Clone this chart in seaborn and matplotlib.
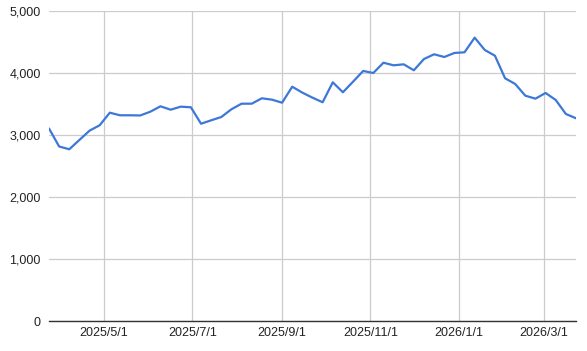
import matplotlib
matplotlib.use("Agg")
import matplotlib.pyplot as plt
import matplotlib.dates as mdates
from matplotlib.ticker import FuncFormatter, FixedLocator
import seaborn as sns
import pandas as pd

start_date = "2025-03-24"
n_weeks = 53
values = [3105, 2815, 2770, 2920, 3070, 3157, 3360, 3318, 3318, 3315,
          3376, 3463, 3408, 3457, 3447, 3182, 3237, 3290, 3415, 3505,
          3505, 3592, 3570, 3521, 3779, 3683, 3602, 3528, 3850, 3689,
          3860, 4033, 4000, 4166, 4124, 4140, 4044, 4226, 4302, 4258,
          4323, 4334, 4570, 4371, 4279, 3915, 3823, 3634, 3586, 3678,
          3565, 3339, 3270]
x_ticks = ["2025-05-01", "2025-07-01", "2025-09-01", "2025-11-01",
           "2026-01-01", "2026-03-01"]
y_ticks = [0, 1000, 2000, 3000, 4000, 5000]

dates = pd.date_range(start_date, periods=n_weeks, freq="7D")
df = pd.DataFrame({"date": dates, "value": values})

sns.set_style("white")
plt.rcParams["font.family"] = ["Liberation Sans", "DejaVu Sans"]

fig = plt.figure(figsize=(5.87, 3.51), dpi=100)
ax = fig.add_axes([49 / 587, 30 / 351, (576 - 49) / 587, (321 - 11) / 351])

sns.lineplot(data=df, x="date", y="value", ax=ax, color="#3d78d8",
             linewidth=1.6, zorder=3)

ax.set_xlim(dates[0], dates[-1])
ax.set_ylim(0, 5000)
ax.yaxis.set_major_locator(FixedLocator(y_ticks))
ax.yaxis.set_major_formatter(FuncFormatter(lambda v, p: f"{int(v):,}"))
xt = [mdates.date2num(pd.Timestamp(d)) for d in x_ticks]
ax.xaxis.set_major_locator(FixedLocator(xt))
ax.xaxis.set_major_formatter(FuncFormatter(
    lambda v, p: (lambda d: f"{d.year}/{d.month}/{d.day}")(mdates.num2date(v))))

ax.grid(True, color="#cccccc", linewidth=0.9, zorder=0)
ax.set_axisbelow(True)
for s in ["top", "right", "left"]:
    ax.spines[s].set_visible(False)
ax.spines["bottom"].set_color("#333333")
ax.spines["bottom"].set_linewidth(1.0)
ax.spines["bottom"].set_zorder(4)
ax.tick_params(axis="both", length=0, labelsize=9, colors="#222222")
ax.tick_params(axis="y", pad=6)
ax.tick_params(axis="x", pad=4)
ax.set_xlabel("")
ax.set_ylabel("")

fig.savefig("out.png", dpi=100)
